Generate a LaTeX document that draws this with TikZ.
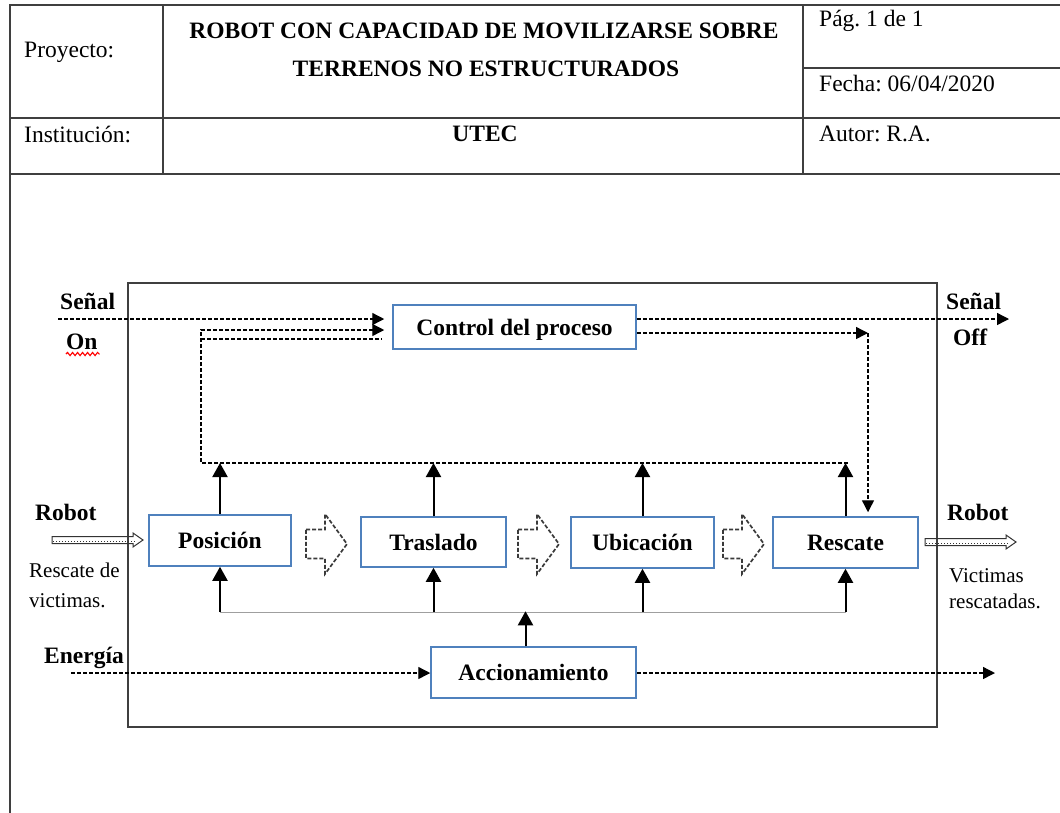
\documentclass[tikz,border=0pt]{standalone}
\usepackage{fontspec}
\setmainfont{Liberation Serif}
\frenchspacing
\usetikzlibrary{arrows.meta,decorations.pathmorphing,calc}
\definecolor{framegray}{HTML}{3F3F3F}
\definecolor{boxblue}{HTML}{4F81BD}
\definecolor{blockgray}{HTML}{3A3A3A}
\tikzset{
  frameline/.style={draw=framegray,line width=2pt},
  ruleline/.style={draw=framegray,line width=2.6pt},
  headtxt/.style={inner sep=0pt,font=\fontsize{23.5}{28}\selectfont},
  headbold/.style={inner sep=0pt,font=\fontsize{23.5}{28}\selectfont\bfseries},
  procbox/.style={draw=boxblue,line width=1.5pt,inner sep=0pt,
    font=\fontsize{23.5}{28}\selectfont\bfseries,text height=16pt,text depth=0pt},
  sidebold/.style={inner sep=0pt,anchor=base west,font=\fontsize{23.5}{28}\selectfont\bfseries},
  sidetxt/.style={inner sep=0pt,anchor=base west,font=\fontsize{21}{24}\selectfont},
  sigline/.style={line width=1.4pt,dash pattern=on 4pt off 2pt,-{Triangle[length=12pt,width=12pt]}},
  sigplain/.style={line width=1.4pt,dash pattern=on 4pt off 2pt},
  feed/.style={line width=2pt,-{Triangle[length=14pt,width=15pt]}},
  bus/.style={draw=gray!75,line width=1pt},
  flowarrow/.style={draw=blockgray,line width=1.7pt,dash pattern=on 4pt off 2pt,line join=miter},
  hollowarrow/.style={draw=gray!40!black,line width=1pt},
  flowpic/.pic={\draw[flowarrow] (-20.5,-14.5) -- (-1.5,-14.5) -- (-1.5,-30) -- (20.5,0)
      -- (-1.5,30) -- (-1.5,14.5) -- (-20.5,14.5) -- cycle;},
  hollowpic/.pic={\draw[hollowarrow] (0,-3.5) -- (81,-3.5) -- (81,-7) -- (91,0) -- (81,7)
      -- (81,3.5) -- (0,3.5) -- cycle;
    \draw[hollowarrow,dotted] (1,1) -- (84,1);},
}
\begin{document}
\begin{tikzpicture}[x=1pt,y=-1pt]
\fill[white] (0,0) rectangle (1060,812);
\clip (0,0) rectangle (1060,812);

% ---- title block ----
\draw[frameline] (10,820) -- (10,5) -- (1070,5);
\draw[ruleline] (10,118) -- (1070,118);
\draw[ruleline] (10,174) -- (1070,174);
\draw[frameline] (163,5) -- (163,174);
\draw[frameline] (803,5) -- (803,174);
\draw[frameline] (803,68) -- (1070,68);

\node[headtxt,anchor=base west] (proy) at (24,57) {Proyecto:};
\node[headbold,anchor=base] (tit1) at (484,38) {ROBOT CON CAPACIDAD DE MOVILIZARSE SOBRE};
\node[headbold,anchor=base] (tit2) at (486,76) {TERRENOS NO ESTRUCTURADOS};
\node[headtxt,anchor=base west] (pag) at (819,26) {Pág. 1 de 1};
\node[headtxt,anchor=base west] (fecha) at (819,91) {Fecha: 06/04/2020};
\node[headtxt,anchor=base west] (inst) at (24,142) {Institución:};
\node[headbold,anchor=base] (utec) at (485,141) {UTEC};
\node[headtxt,anchor=base west] (autor) at (819,141) {Autor: R.A.};

% ---- system boundary ----
\draw[frameline] (128,283) rectangle (937,727);

% ---- process blocks ----
\node[procbox,minimum width=243pt,minimum height=44pt] (ctrl) at (514.5,327) {Control del proceso};
\node[procbox,minimum width=142pt,minimum height=51pt] (pos) at (220,540.5) {Posición};
\node[procbox,minimum width=145pt,minimum height=50pt] (tras) at (433.5,542) {Traslado};
\node[procbox,minimum width=143pt,minimum height=51pt] (ubic) at (642.5,542.5) {Ubicación};
\node[procbox,minimum width=145pt,minimum height=51pt] (resc) at (845.5,542.5) {Rescate};
\node[procbox,minimum width=205pt,minimum height=51pt] (acc) at (533.5,672.5) {Accionamiento};

% ---- outside labels ----
\node[sidebold] (senalL) at (60,309) {Señal};
\node[sidebold] (onL) at (66,349) {On};
\node[sidebold] (senalR) at (946,309) {Señal};
\node[sidebold] (offR) at (953,345) {Off};
\node[sidebold] (robotL) at (35,520) {Robot};
\node[sidetxt] (resL1) at (29,577) {Rescate de};
\node[sidetxt] (resL2) at (29,607) {victimas.};
\node[sidebold] (robotR) at (947,520) {Robot};
\node[sidetxt] (vicR1) at (949,582) {Victimas};
\node[sidetxt] (vicR2) at (949,608) {rescatadas.};
\node[sidebold] (energia) at (44,663) {Energía};

\draw[red,line width=1.1pt,decorate,decoration={snake,segment length=5pt,amplitude=1.6pt}]
  ($(onL.base west)+(0,5)$) -- ($(onL.base east)+(2,5)$);

% ---- signal lines ----
\coordinate (onin) at (58,319);
\coordinate (offout) at (1009,319);
\coordinate (cturn) at (868,333);
\draw[sigline,shorten >=8pt] (onin) -- (ctrl.west |- onin);
\draw[sigline] (ctrl.east |- offout) -- (offout);
\draw[sigline] (ctrl.east |- cturn) -- (cturn);
\draw[sigline,shorten >=4pt] (cturn) -- (cturn |- resc.north);

% feedback from the stages back to the controller
\coordinate (fbR) at (848,463);
\coordinate (fbL) at (201,463);
\coordinate (fbT) at (201,330);
\coordinate (fbB) at (201,339);
\draw[sigline,shorten >=8pt] (fbR) -- (fbL) -- (fbT) -- (fbT -| ctrl.west);
\draw[sigplain,shorten >=10pt] (fbB) -- (fbB -| ctrl.west);

\draw[feed] (pos.north) -- (pos.north |- fbL);
\draw[feed] (tras.north) -- (tras.north |- fbL);
\draw[feed] (ubic.north) -- (ubic.north |- fbL);
\draw[feed] (resc.north) -- (resc.north |- fbL);

% ---- actuation bus ----
\coordinate (busL) at (220,612);
\coordinate (busR) at (845.5,612);
\draw[bus] (busL) -- (busR);
\draw[feed] (pos.south |- busL) -- (pos.south);
\draw[feed] (tras.south |- busL) -- (tras.south);
\draw[feed] (ubic.south |- busL) -- (ubic.south);
\draw[feed] (resc.south |- busL) -- (resc.south);
\draw[feed] ([xshift=-8pt]acc.north) -- ++(0,-35);

% energy in and out
\coordinate (enin) at (71,673);
\coordinate (enout) at (995,673);
\draw[sigline] (enin) -- (acc.west |- enin);
\draw[sigline] (acc.east |- enout) -- (enout);

% ---- flow between stages ----
\pic at (326.5,544) {flowpic};
\pic at (538.5,544) {flowpic};
\pic at (743.5,544) {flowpic};

% ---- material in / out ----
\pic at (52,540) {hollowpic};
\pic at (925,542) {hollowpic};
\end{tikzpicture}
\end{document}
